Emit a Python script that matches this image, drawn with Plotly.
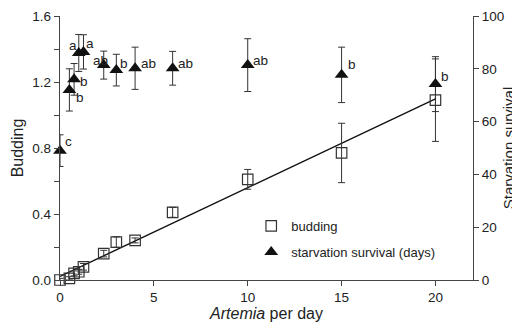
import numpy as np
import plotly.graph_objects as go

# ---- data ----
artemia = [0, 0.5, 0.75, 1.0, 1.25, 2.33, 3, 4, 6, 10, 15, 20]
budding = [0.0, 0.01, 0.04, 0.05, 0.08, 0.16, 0.23, 0.24, 0.41, 0.61, 0.77, 1.09]
budding_err = [0.01, 0.01, 0.015, 0.015, 0.02, 0.02, 0.032, 0.015, 0.03, 0.06, 0.18, 0.25]
survival = [49, 72, 76, 86, 86.4, 81.4, 79.5, 80.2, 80.2, 81.4, 77.7, 74.2]
survival_err = [6, 8, 6, 7, 6.5, 5.3, 6, 8, 6.4, 10, 10.5, 10.4]
sig_letters = ["c", "b", "b", "a", "a", "ab", "b", "ab", "ab", "ab", "b", "b"]

left_ticks = [0.0, 0.4, 0.8, 1.2, 1.6]
right_ticks = [0, 20, 40, 60, 80, 100]
x_ticks = [0, 5, 10, 15, 20]

# label offsets in pixels (style only)
label_dx = [8, 11, 10, -6, 7, -3, 8, 13, 13, 13, 10, 10]
label_dy = [-9, 8, 2, -7, -8, -5, -7, -5, -5, -5, -10, -8]

# linear fit of budding vs Artemia
slope, intercept = np.polyfit(artemia, budding, 1)
fit_x = [0, max(artemia)]
fit_y = [intercept + slope * v for v in fit_x]

FONT = "Liberation Sans, Arial, sans-serif"
INK = "#222"
AX = "#444"

fig = go.Figure()
fig.add_trace(go.Scatter(
    x=fit_x, y=fit_y, mode="lines", line=dict(color="#111", width=1.4),
    showlegend=False, hoverinfo="skip", cliponaxis=False))
fig.add_trace(go.Scatter(
    x=artemia, y=budding, mode="markers", name="budding",
    marker=dict(symbol="square-open", size=10.5, color="#333", line=dict(width=1.2)),
    error_y=dict(type="data", array=budding_err, color="#333", thickness=1, width=3.5),
    cliponaxis=False, legend="legend"))
fig.add_trace(go.Scatter(
    x=artemia, y=survival, mode="markers", name="starvation survival (days)",
    yaxis="y2",
    marker=dict(symbol="triangle-up", size=12, color="#111"),
    error_y=dict(type="data", array=survival_err, color="#333", thickness=1, width=3.5),
    cliponaxis=False, legend="legend2"))

for xv, yv, lab, dx, dy in zip(artemia, survival, sig_letters, label_dx, label_dy):
    fig.add_annotation(x=xv, y=yv, xref="x", yref="y2", text=lab, showarrow=False,
                       xshift=dx, yshift=-dy, font=dict(size=13.5, color=INK, family=FONT))

axis_common = dict(showline=True, linecolor=AX, linewidth=1.3, ticks="outside",
                   ticklen=5, tickcolor=AX, tickwidth=1.2, showgrid=False, zeroline=False,
                   automargin=False,
                   tickfont=dict(size=13.5, color=INK, family=FONT))

# page body has an 8px margin, so the figure is sized to fit the 520x323 window
fig.update_layout(
    width=512, height=315,
    margin=dict(l=52, r=47, t=8, b=43),
    paper_bgcolor="white", plot_bgcolor="white",
    font=dict(family=FONT, color=INK),
    xaxis=dict(range=[0, 22], tickvals=x_ticks,
               title=dict(text="<i>Artemia</i> per day", font=dict(size=16, color=INK), standoff=2),
               **axis_common),
    yaxis=dict(range=[0, 1.6], tickvals=left_ticks, tickformat=".1f",
               minor=dict(dtick=0.2, ticks="outside", ticklen=5, tickcolor=AX, showgrid=False),
               title=dict(text="Budding", font=dict(size=16, color=INK), standoff=4),
               **axis_common),
    yaxis2=dict(range=[0, 100], tickvals=right_ticks, overlaying="y", side="right",
                anchor="x",
                title=dict(text="Starvation survival", font=dict(size=15, color=INK), standoff=0),
                **axis_common),
    legend=dict(x=0.463, y=0.205, xanchor="left", yanchor="middle",
                bgcolor="rgba(0,0,0,0)", font=dict(size=13, color=INK, family=FONT)),
    legend2=dict(x=0.463, y=0.106, xanchor="left", yanchor="middle",
                 bgcolor="rgba(0,0,0,0)", font=dict(size=13, color=INK, family=FONT)),
)

fig.write_html("out.html")
